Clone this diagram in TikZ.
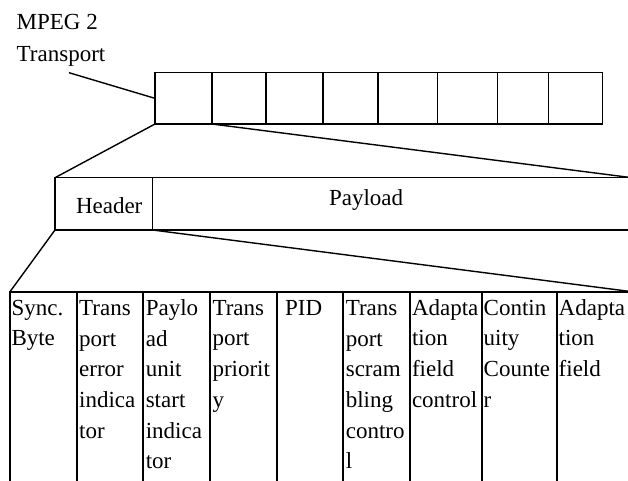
\documentclass[tikz,border=0pt]{standalone}
\usepackage{fontspec}
\setmainfont{Liberation Serif}
\usetikzlibrary{positioning}

\begin{document}
\begin{tikzpicture}[x=1pt, y=-1pt,
    every node/.style={inner sep=0pt, outer sep=0pt, font=\fontsize{23}{30.7}\selectfont},
    cell/.style={draw, line width=1.1pt, anchor=north west},
    field/.style={draw, line width=1.8pt, anchor=north west},
    txt/.style={anchor=base west},
    coltxt/.style={anchor=north west, align=left},
    link/.style={line width=1.4pt}]
  \useasboundingbox (0,0) rectangle (628,480);

  % transport stream
  \node[txt] (mpeg) at (16.7,29.3) {MPEG 2};
  \node[txt] (trans) at (16.7,61.7) {Transport};
  \coordinate (tail) at (69,72.7);
  \foreach \i/\xa/\xb in {1/155/212, 2/212/266, 3/266/323, 4/323/378,
                          5/378/437.7, 6/437.7/497.7, 7/497.7/548.7, 8/548.7/602.7}
    \node[cell, minimum width={(\xb-\xa)*1pt}, minimum height=51.3pt] (p\i) at (\xa,72.7) {};

  % packet
  \node[cell, minimum width=97.7pt, minimum height=52.3pt] (hdr) at (55,177.7) {};
  \node[cell, minimum width=479.3pt, minimum height=52.3pt] (pay) at (152.7,177.7) {};
  \node[txt] (hdrtxt) at (76,213.3) {Header};
  \node[txt] (paytxt) at (329,205.5) {Payload};

  % header fields
  \foreach \n/\xa/\xb/\dx/\t in {sync/10/76.7/1.5/{Sync.\\Byte},
      tei/76.7/143.3/2.5/{Trans\\port\\error\\indica\\tor},
      pusi/143.3/210/2.5/{Paylo\\ad\\unit\\start\\indica\\tor},
      tpri/210/276.7/2.5/{Trans\\port\\priorit\\y},
      pid/276.7/343.3/8.5/{PID},
      tsc/343.3/410/2.5/{Trans\\port\\scram\\bling\\contro\\l},
      afc/410/481.7/2/{Adapta\\tion\\field\\control},
      cc/481.7/556.7/2/{Contin\\uity\\Counte\\r},
      af/556.7/632/2/{Adapta\\tion\\field}} {
    \node[field, minimum width={(\xb-\xa)*1pt}, minimum height=200pt] (\n) at (\xa,291.7) {};
    \node[coltxt] (\n txt) at (\xa+\dx,293.8) {\strut\t};
  }

  \draw[link] (tail) -- (p1.west);
  \draw[link] (p1.south west) -- (hdr.north west);
  \draw[link] (p1.south east) -- (pay.north east);
  \draw[link] (hdr.south west) -- (sync.north west);
  \draw[link] (hdr.south east) -- (af.north east);
\end{tikzpicture}
\end{document}
